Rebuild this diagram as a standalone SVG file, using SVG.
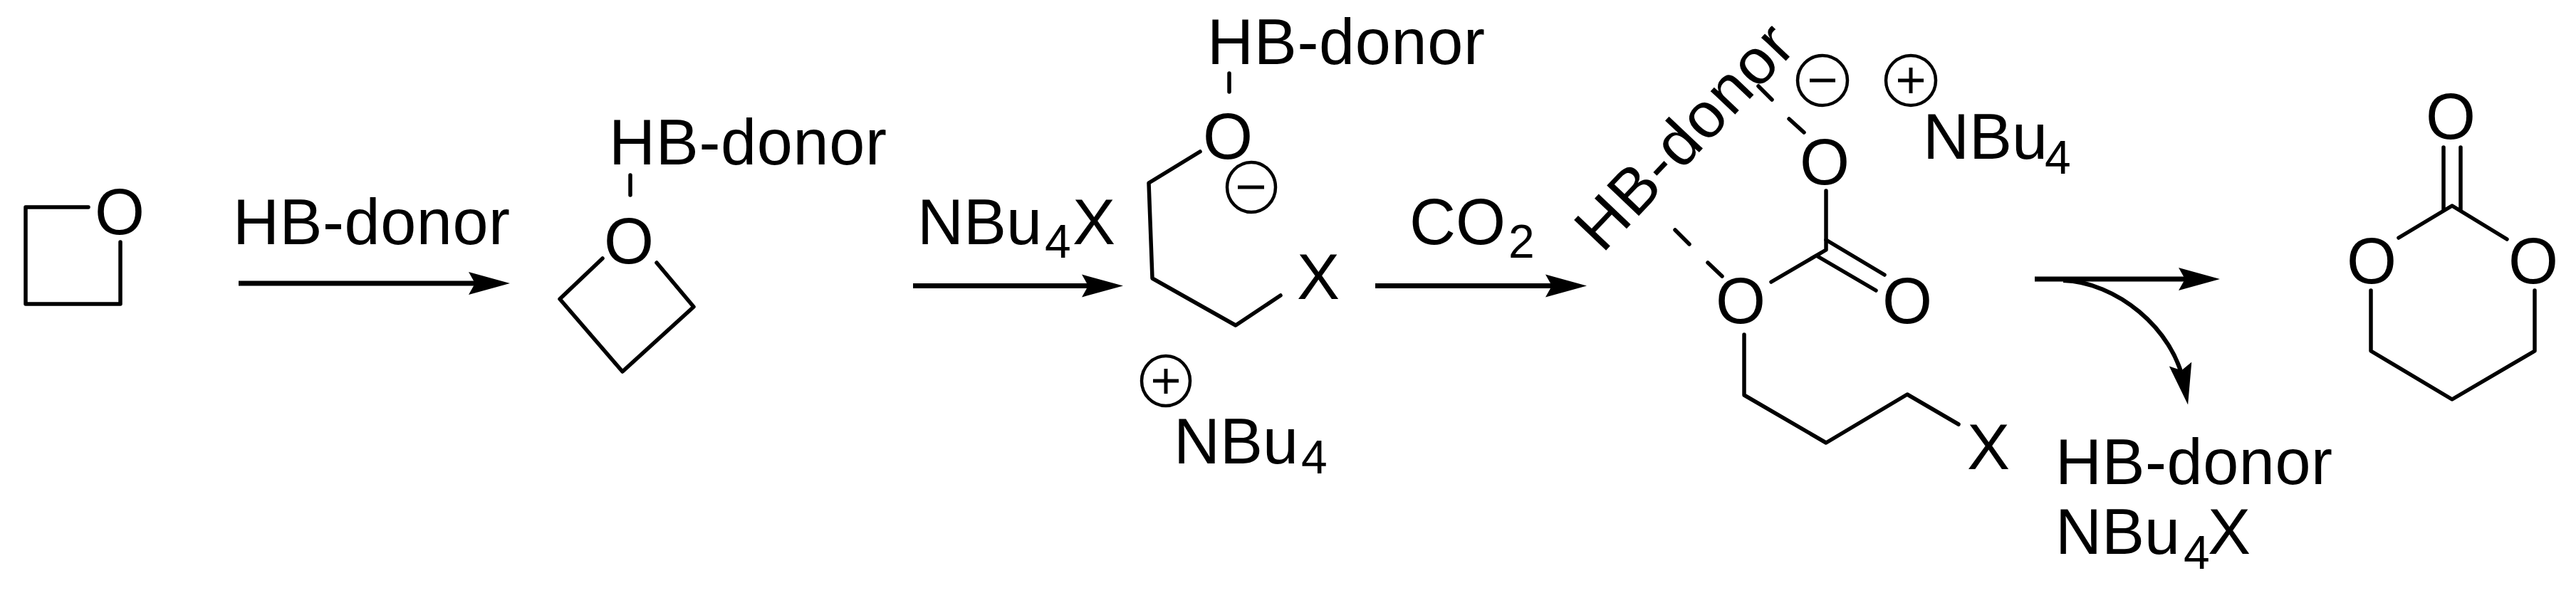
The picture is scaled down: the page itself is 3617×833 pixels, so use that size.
<svg xmlns="http://www.w3.org/2000/svg" width="3617" height="833" viewBox="0 0 3617 833">
<style>
text{font-family:"Liberation Sans",Arial,sans-serif;font-size:90px;fill:#000}
.c{text-anchor:middle}
.s{font-size:66px}
.b{fill:none;stroke:#000;stroke-width:5.5;stroke-linecap:round;stroke-linejoin:round}
.a{fill:none;stroke:#000;stroke-width:7;marker-end:url(#h)}
.q{fill:none;stroke:#000;stroke-width:4.5}
.m{fill:none;stroke:#000;stroke-width:5}
</style>
<defs>
<marker id="h" markerUnits="userSpaceOnUse" markerWidth="60" markerHeight="34" viewBox="0 0 60 34" refX="30" refY="17" orient="auto"><path d="M0,1 L58,17 L0,33 L9,17 Z" fill="#000"/></marker>
</defs>
<rect width="3617" height="833" fill="#fff"/>
<g id="oxetane">
<path class="b" d="M124,291H36V427H169V340"/>
<text class="c" x="168" y="329">O</text>
</g>
<g id="oxetane-hb">
<path class="b" d="M846,363L786,420L874,522L974,431L922,369"/>
<path class="b" d="M885,246V274"/>
<text class="c" x="883" y="370">O</text>
<text x="855" y="231" textLength="390">HB-donor</text>
</g>
<g id="ring-opened">
<path class="b" d="M1685,213L1613,257L1618,391L1735,457L1798,415"/>
<path class="b" d="M1726,103V129"/>
<text class="c" x="1724" y="223">O</text>
<text class="c" x="1851" y="420">X</text>
<text x="1695" y="90" textLength="390">HB-donor</text>
<ellipse class="q" cx="1757" cy="263" rx="34" ry="35"/>
<path class="m" d="M1738,263H1775"/>
<ellipse class="q" cx="1637" cy="535" rx="34" ry="35"/>
<path class="m" d="M1619,535H1655M1637,518V553"/>
<text x="1648" y="651">NBu<tspan class="s" x="1827" y="665">4</tspan></text>
</g>
<g id="carbonate">
<path class="b" d="M2564,268V351L2487,396"/>
<path class="b" d="M2564,337L2646,386M2552,360L2634,408"/>
<path class="b" d="M2449,470V555L2564,622L2678,554L2750,596"/>
<path class="b" d="M2352,323L2372,343M2398,369L2418,388M2469,121L2488,140M2512,167L2533,186"/>
<text class="c" x="2562" y="259">O</text>
<text class="c" x="2444" y="454">O</text>
<text class="c" x="2678" y="454">O</text>
<text class="c" x="2792" y="659">X</text>
<text transform="translate(2250,357) rotate(-46.5)" textLength="398">HB-donor</text>
<ellipse class="q" cx="2559" cy="113" rx="35" ry="35"/>
<path class="m" d="M2541,113H2577"/>
<ellipse class="q" cx="2683" cy="113" rx="35" ry="35"/>
<path class="m" d="M2665,113H2701M2683,95V131"/>
<text x="2700" y="223">NBu<tspan class="s" x="2871" y="244">4</tspan></text>
</g>
<g id="product">
<path class="b" d="M3431,207V294M3455,207V294"/>
<path class="b" d="M3368,334L3443,289L3520,336"/>
<path class="b" d="M3329,408V493L3443,561L3559,493V408"/>
<text class="c" x="3441" y="195">O</text>
<text class="c" x="3330" y="398">O</text>
<text class="c" x="3557" y="398">O</text>
</g>
<g id="labels">
<text x="327" y="343" textLength="389">HB-donor</text>
<text x="1288" y="343">NBu<tspan class="s" x="1467" y="362">4</tspan><tspan x="1506" y="343">X</tspan></text>
<text x="1979" y="343">CO<tspan class="s" x="2118" y="362">2</tspan></text>
<text x="2886" y="680" textLength="389">HB-donor</text>
<text x="2886" y="778">NBu<tspan class="s" x="3066" y="799">4</tspan><tspan x="3100" y="778">X</tspan></text>
</g>
<g id="connectors">
<path class="a" d="M335,398H688"/>
<path class="a" d="M1282,401.500H1549"/>
<path class="a" d="M1931,401.500H2200"/>
<path class="a" d="M2857,392H3089"/>
<path class="a" style="stroke-width:6" d="M2897,394C2970,396 3052,460 3067,541"/>
</g>
</svg>
